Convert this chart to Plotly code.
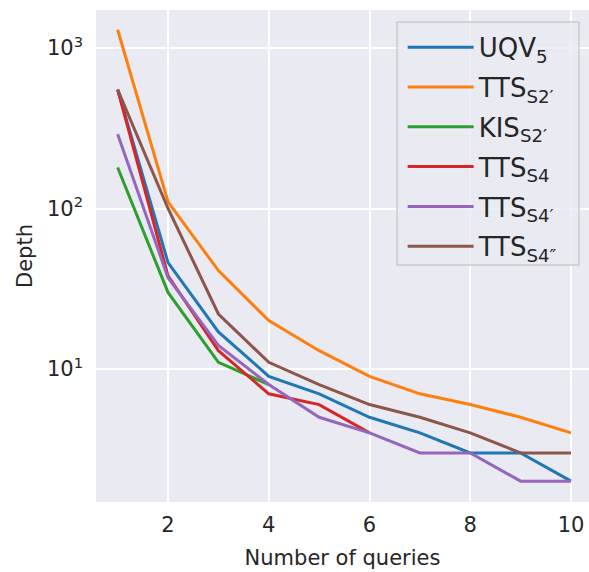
import plotly.graph_objects as go

queries = [1, 2, 3, 4, 5, 6, 7, 8, 9, 10]

uqv5 = [550, 46, 17, 9, 7, 5, 4, 3, 3, 2]
tts_s2p = [1300, 110, 41, 20, 13, 9, 7, 6, 5, 4]
kis_s2p = [180, 30, 11, 8]
tts_s4 = [550, 38, 13, 7, 6, 4]
tts_s4p = [290, 37, 14, 8, 5, 4, 3, 3, 2, 2]
tts_s4pp = [550, 100, 22, 11, 8, 6, 5, 4, 3, 3]

names = ["UQV<sub>5</sub>", "TTS<sub>S2′</sub>", "KIS<sub>S2′</sub>",
         "TTS<sub>S4</sub>", "TTS<sub>S4′</sub>", "TTS<sub>S4″</sub>"]
series = [uqv5, tts_s2p, kis_s2p, tts_s4, tts_s4p, tts_s4pp]
colors = ["#1f77b4", "#ff7f0e", "#2ca02c", "#d62728", "#9467bd", "#8c564b"]

y_tickvals = [10, 100, 1000]
y_ticktext = ["10<sup>1</sup>", "10<sup>2</sup>", "10<sup>3</sup>"]
x_tickvals = [2, 4, 6, 8, 10]

fig = go.Figure()
for i, (nm, ys, c) in enumerate(zip(names, series, colors)):
    fig.add_trace(go.Scatter(
        x=queries[:len(ys)], y=ys, mode="lines", name=nm,
        line=dict(color=c, width=3), legendgroup=f"g{i}",
    ))

# legend frame (drawn as a shape so its size can match)
fig.add_shape(
    type="rect", xref="paper", yref="paper",
    x0=0.6105, x1=0.9797, y0=0.4817, y1=0.9756,
    fillcolor="rgba(234,234,242,0.8)",
    line=dict(color="#CCCCCC", width=1.5),
    layer="above",
)

font_family = "DejaVu Sans"
fig.update_layout(
    width=589, height=572,
    margin=dict(l=96, r=0, t=10, b=70),
    paper_bgcolor="white",
    plot_bgcolor="#EAEAF2",
    font=dict(family=font_family, color="#262626", size=21),
    showlegend=True,
    legend=dict(
        x=0.622, y=0.972, xanchor="left", yanchor="top",
        bgcolor="rgba(0,0,0,0)",
        borderwidth=0,
        font=dict(size=26, family=font_family, color="#262626"),
        tracegroupgap=3,
        itemwidth=66,
    ),
    xaxis=dict(
        range=[0.57, 10.357],
        tickvals=x_tickvals,
        showgrid=True, gridcolor="white", gridwidth=1.5,
        zeroline=False, showline=False, ticks="",
        ticklabelstandoff=8,
        tickfont=dict(size=21),
        title=dict(text="Number of queries", font=dict(size=21), standoff=14),
    ),
    yaxis=dict(
        type="log",
        range=[0.171, 3.237],
        tickvals=y_tickvals,
        ticktext=y_ticktext,
        showgrid=True, gridcolor="white", gridwidth=1.5,
        zeroline=False, showline=False, ticks="",
        ticklabelstandoff=12,
        tickfont=dict(size=21),
        title=dict(text="Depth", font=dict(size=21), standoff=8),
    ),
)

fig.write_html("out.html")
